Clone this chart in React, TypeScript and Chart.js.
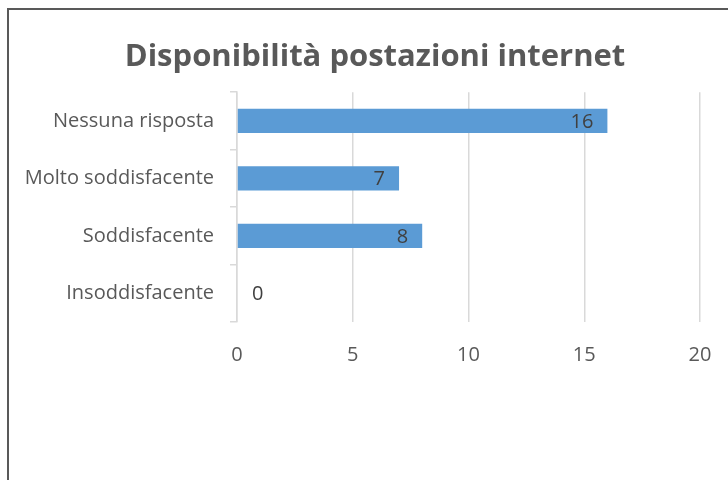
import React, { useEffect, useRef } from "react";
import { Chart, registerables } from "chart.js";

Chart.register(...registerables);

const TITLE = "Disponibilità postazioni internet";
const categories = ["Nessuna risposta", "Molto soddisfacente", "Soddisfacente", "Insoddisfacente"];
const values = [16, 7, 8, 0];
const xTicks = [0, 5, 10, 15, 20];

const FONT = "'Open Sans'";
const PAD_LEFT = 50;

const valueLabels = {
  id: "valueLabels",
  afterLayout(chart: any) {
    // let the category labels use the space left of the axis box
    chart.scales.y.left = 0;
  },
  afterDatasetsDraw(chart: any) {
    const ctx = chart.ctx;
    const meta = chart.getDatasetMeta(0);
    ctx.save();
    ctx.font = `20px ${FONT}`;
    ctx.fillStyle = "#404040";
    ctx.textBaseline = "middle";
    meta.data.forEach((bar: any, i: number) => {
      const v = chart.data.datasets[0].data[i];
      if (v > 0) {
        ctx.textAlign = "right";
        ctx.fillText(String(v), bar.x - 14, bar.y + 1);
      } else {
        ctx.textAlign = "left";
        ctx.fillText(String(v), bar.x + 15, bar.y + 1);
      }
    });
    ctx.restore();
  },
};

export default function App() {
  const ref = useRef<HTMLCanvasElement>(null);
  useEffect(() => {
    const chart = new Chart(ref.current!, {
      type: "bar",
      data: {
        labels: categories,
        datasets: [
          {
            data: values,
            backgroundColor: "#5b9bd5",
            borderWidth: 0,
            barPercentage: 0.42,
            categoryPercentage: 1,
          },
        ],
      },
      options: {
        indexAxis: "y",
        animation: false,
        responsive: false,
        maintainAspectRatio: false,
        layout: { padding: { left: PAD_LEFT, right: 28, top: 0, bottom: 0 } },
        plugins: {
          legend: { display: false },
          tooltip: { enabled: false },
          title: {
            display: true,
            text: TITLE,
            color: "#595959",
            font: { family: FONT, size: 31, weight: "bold" },
            padding: { top: 39, bottom: 16 },
          },
        },
        scales: {
          x: {
            min: 0,
            max: 20,
            afterBuildTicks(scale: any) {
              scale.ticks = xTicks.map((v) => ({ value: v }));
            },
            afterFit(scale: any) {
              scale.height = 158;
            },
            grid: {
              color: "#d9d9d9",
              lineWidth: 1.5,
              drawTicks: true,
              tickLength: 21,
              tickColor: "rgba(0,0,0,0)",
            },
            border: { display: false },
            ticks: {
              color: "#595959",
              font: { family: FONT, size: 20 },
              padding: 0,
            },
          },
          y: {
            afterFit(scale: any) {
              scale.width = 237 - PAD_LEFT;
            },
            grid: {
              offset: true,
              drawOnChartArea: false,
              color: "#d9d9d9",
              lineWidth: 1.5,
              tickLength: 7,
            },
            border: { display: true, color: "#d9d9d9", width: 1.5 },
            ticks: {
              color: "#595959",
              font: { family: FONT, size: 20 },
              padding: 16,
            },
          },
        },
      },
      plugins: [valueLabels],
    });
    return () => chart.destroy();
  }, []);

  return (
    <div style={{ position: "fixed", left: 0, top: 0, width: 728, height: 480, background: "#fff", overflow: "hidden" }}>
      <div
        style={{
          position: "absolute",
          left: 7,
          top: 8,
          width: 800,
          height: 600,
          borderLeft: "2px solid #595959",
          borderTop: "2px solid #595959",
        }}
      />
      <canvas ref={ref} width={728} height={480} style={{ position: "absolute", left: 0, top: 0 }} />
    </div>
  );
}
